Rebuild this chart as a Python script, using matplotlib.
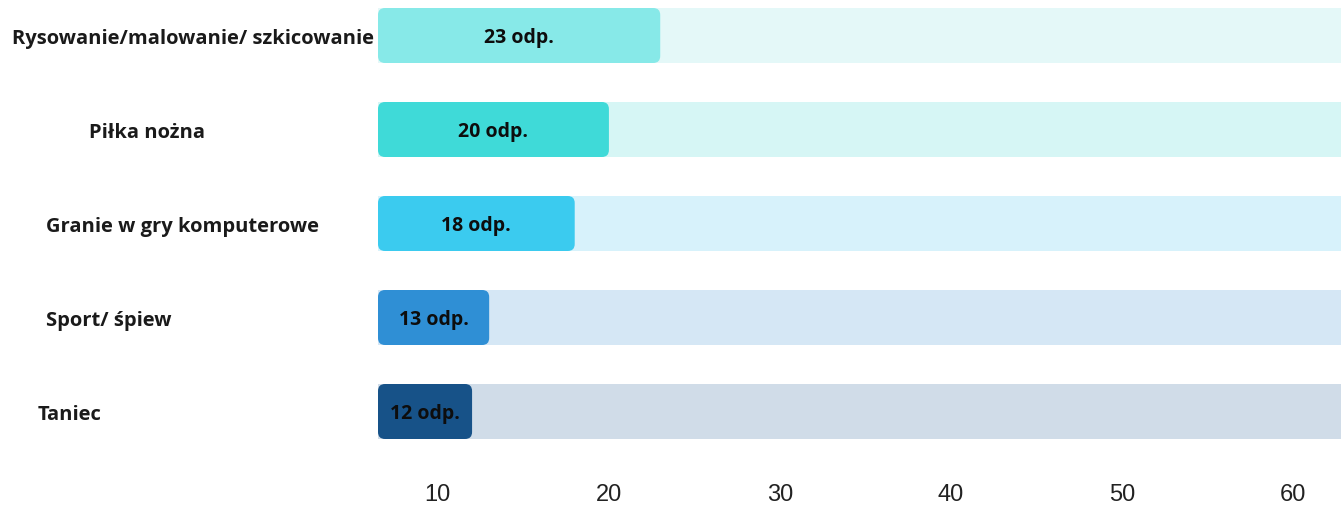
import matplotlib
matplotlib.use('Agg')
from matplotlib import pyplot as plt
from matplotlib.patches import FancyBboxPatch
from matplotlib.transforms import blended_transform_factory

categories = ['Rysowanie/malowanie/ szkicowanie', 'Piłka nożna', 'Granie w gry komputerowe',
              'Sport/ śpiew', 'Taniec']
answers    = [23, 20, 18, 13, 12]
value_labels = ['23 odp.', '20 odp.', '18 odp.', '13 odp.', '12 odp.']
ticks      = [10, 20, 30, 40, 50, 60]

bar_colors = ['#87E9E8', '#3FDAD8', '#3BCBEF', '#2F8FD5', '#175288']
bg_colors  = ['#E4F8F8', '#D6F6F5', '#D7F2FB', '#D5E7F5', '#D0DCE8']
label_x    = [0.009, 0.066, 0.034, 0.034, 0.028]   # left edge of category labels, figure fraction

X_MIN, X_MAX = 6.5, 62.8
BAR_H = 0.585

fig = plt.figure(figsize=(13.41, 5.06), dpi=100)
ax = fig.add_axes([378 / 1341, 1 - 459 / 506, 1 - 378 / 1341, 458 / 506])
ax.set_xlim(X_MIN, X_MAX)
ax.set_ylim(4 + 46.5 / 94, -35.5 / 94)

ys = list(range(len(categories)))

# full-width background bars
ax.barh(ys, [X_MAX - X_MIN] * len(ys), left=X_MIN, height=BAR_H, color=bg_colors, zorder=1)

# value bars, swapped for rounded boxes
bars = ax.barh(ys, [v - X_MIN for v in answers], left=X_MIN, height=BAR_H,
               color=bar_colors, zorder=2)
fig.canvas.draw()
bb = ax.get_window_extent()
px_x = bb.width / (X_MAX - X_MIN)
px_y = bb.height / abs(ax.get_ylim()[0] - ax.get_ylim()[1])
radius = 7 / px_x
for b, c in zip(bars, bar_colors):
    b.set_visible(False)
    box = FancyBboxPatch((b.get_x(), b.get_y()), b.get_width(), b.get_height(),
                         boxstyle='round,pad=0,rounding_size={}'.format(radius),
                         mutation_aspect=px_x / px_y, facecolor=c, edgecolor='none',
                         zorder=2)
    ax.add_patch(box)

for y, v, txt in zip(ys, answers, value_labels):
    ax.text((X_MIN + v) / 2, y + 0.02, txt, ha='center', va='center', fontsize=14,
            fontweight='bold', family=['Open Sans', 'DejaVu Sans'], color='#0d0d0d', zorder=3)

trans = blended_transform_factory(fig.transFigure, ax.transData)
for y, name, lx in zip(ys, categories, label_x):
    ax.text(lx, y + 0.03, name, transform=trans, ha='left', va='center', fontsize=14.5,
            fontweight='bold', family=['Open Sans', 'DejaVu Sans'], color='#1a1a1a',
            clip_on=False)

ax.set_xticks(ticks)
ax.set_xticklabels([str(t) for t in ticks], family=['Liberation Sans', 'DejaVu Sans'],
                   fontsize=17, color='#222222')
ax.tick_params(axis='x', length=0, pad=18)
ax.set_yticks([])
for s in ax.spines.values():
    s.set_visible(False)

plt.savefig('out.png', dpi=100)
